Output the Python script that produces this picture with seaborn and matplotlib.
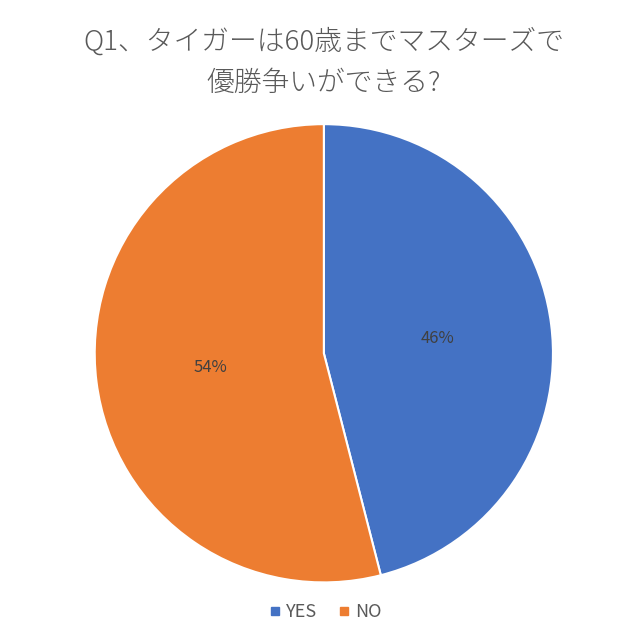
import matplotlib.pyplot as plt
import seaborn as sns
from matplotlib.lines import Line2D

title = "Q1、タイガーは60歳までマスターズで\n優勝争いができる?"
labels = ["YES", "NO"]
values = [46, 54]
colors = ["#4472C4", "#ED7D31"]

sns.set_style("white")
plt.rcParams["font.family"] = ["Noto Sans CJK JP", "DejaVu Sans"]

fig = plt.figure(figsize=(6.4, 6.4), dpi=100)
ax = fig.add_axes([0.148, 0.090, 0.716, 0.716])
wedges, texts, autotexts = ax.pie(
    values,
    colors=colors,
    startangle=90,
    counterclock=False,
    autopct="%d%%",
    pctdistance=0.5,
    wedgeprops=dict(edgecolor="white", linewidth=1.5),
    textprops=dict(color="#404040", fontsize=12),
)
ax.set_xlim(-1, 1)
ax.set_ylim(-1, 1)
ax.set_aspect("equal")
ax.axis("off")

fig.text(0.506, 0.903, title, ha="center", va="center", fontsize=20,
         color="#595959", linespacing=1.57, fontweight="light")

handles = [Line2D([0], [0], marker="s", linestyle="", markersize=6,
                  markerfacecolor=c, markeredgecolor=c) for c in colors]
fig.legend(handles, labels, loc="center", bbox_to_anchor=(0.506, 0.043),
           ncol=2, frameon=False, fontsize=13, labelcolor="#595959",
           handletextpad=0.1, columnspacing=1.0, handlelength=1.0)

plt.savefig("out.png", dpi=100, facecolor="white")
